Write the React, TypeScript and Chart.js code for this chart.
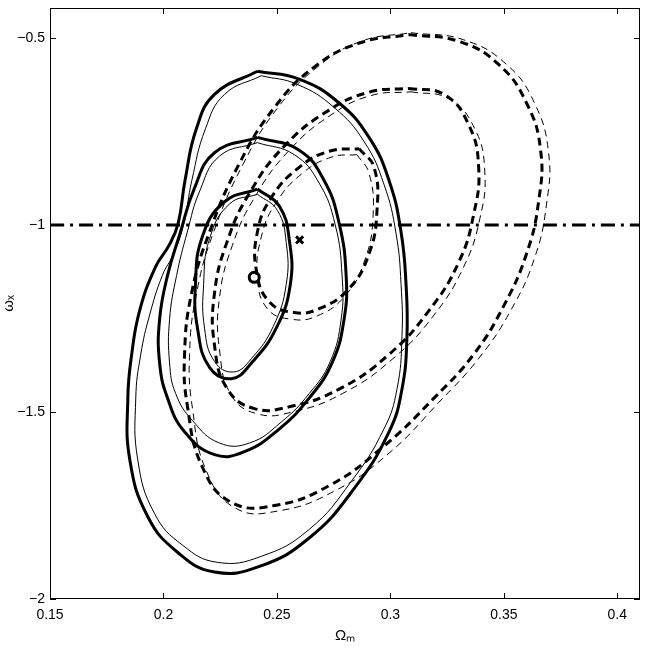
import React, { useEffect, useRef } from "react";
import { Chart, registerables } from "chart.js";

Chart.register(...registerables);

type P = { x: number; y: number };

const xTicks = [0.15, 0.2, 0.25, 0.3, 0.35, 0.4];
const xTickLabels = ["0.15", "0.2", "0.25", "0.3", "0.35", "0.4"];
const yTicks = [-2, -1.5, -1, -0.5];
const yTickLabels = ["\u22122", "\u22121.5", "\u22121", "\u22120.5"];

// Solid contours (thick)
const solidThickInner: P[] = [
  { x: 0.2414, y: -0.904 }, { x: 0.2511, y: -0.95 }, { x: 0.2555, y: -1.042 }, { x: 0.2559, y: -1.159 },
  { x: 0.2497, y: -1.276 }, { x: 0.2388, y: -1.369 }, { x: 0.23, y: -1.411 }, { x: 0.2203, y: -1.381 },
  { x: 0.215, y: -1.276 }, { x: 0.2141, y: -1.159 }, { x: 0.2172, y: -1.03 }, { x: 0.2269, y: -0.938 },
  { x: 0.2414, y: -0.904 },
];
const solidThickMiddle: P[] = [
  { x: 0.2414, y: -0.766 }, { x: 0.2225, y: -0.807 }, { x: 0.2135, y: -0.904 }, { x: 0.2075, y: -1.019 },
  { x: 0.2018, y: -1.135 }, { x: 0.1983, y: -1.252 }, { x: 0.1983, y: -1.369 }, { x: 0.2018, y: -1.463 },
  { x: 0.2093, y: -1.553 }, { x: 0.2225, y: -1.614 }, { x: 0.2357, y: -1.606 }, { x: 0.2511, y: -1.545 },
  { x: 0.2642, y: -1.463 }, { x: 0.2743, y: -1.369 }, { x: 0.2796, y: -1.252 }, { x: 0.2805, y: -1.135 },
  { x: 0.2774, y: -0.995 }, { x: 0.2708, y: -0.881 }, { x: 0.2598, y: -0.8 }, { x: 0.2414, y: -0.766 },
];
const solidThickOuter: P[] = [
  { x: 0.2414, y: -0.589 }, { x: 0.2225, y: -0.651 }, { x: 0.2145, y: -0.743 }, { x: 0.2095, y: -0.881 },
  { x: 0.2065, y: -0.995 }, { x: 0.2025, y: -1.054 }, { x: 0.1965, y: -1.112 }, { x: 0.1895, y: -1.229 },
  { x: 0.186, y: -1.346 }, { x: 0.1843, y: -1.463 }, { x: 0.1852, y: -1.629 }, { x: 0.1931, y: -1.78 },
  { x: 0.2062, y: -1.875 }, { x: 0.2225, y: -1.928 }, { x: 0.2423, y: -1.913 }, { x: 0.2642, y: -1.837 },
  { x: 0.284, y: -1.705 }, { x: 0.2994, y: -1.553 }, { x: 0.3051, y: -1.439 }, { x: 0.3073, y: -1.299 },
  { x: 0.3069, y: -1.159 }, { x: 0.3047, y: -1.019 }, { x: 0.2994, y: -0.881 }, { x: 0.2906, y: -0.766 },
  { x: 0.2774, y: -0.674 }, { x: 0.2598, y: -0.61 }, { x: 0.2414, y: -0.589 },
];

// Solid contours (thin)
const solidThinInner: P[] = [
  { x: 0.2414, y: -0.918 }, { x: 0.2502, y: -0.961 }, { x: 0.2541, y: -1.047 }, { x: 0.2541, y: -1.159 },
  { x: 0.2484, y: -1.271 }, { x: 0.2388, y: -1.357 }, { x: 0.2309, y: -1.393 }, { x: 0.2225, y: -1.365 },
  { x: 0.2181, y: -1.276 }, { x: 0.2177, y: -1.159 }, { x: 0.2203, y: -1.037 }, { x: 0.2291, y: -0.944 },
  { x: 0.2414, y: -0.918 },
];
const solidThinMiddle: P[] = [
  { x: 0.2414, y: -0.78 }, { x: 0.2247, y: -0.816 }, { x: 0.216, y: -0.909 }, { x: 0.2105, y: -1.019 },
  { x: 0.2058, y: -1.135 }, { x: 0.2027, y: -1.252 }, { x: 0.2027, y: -1.369 }, { x: 0.2054, y: -1.451 },
  { x: 0.2128, y: -1.523 }, { x: 0.2247, y: -1.583 }, { x: 0.2379, y: -1.583 }, { x: 0.2519, y: -1.527 },
  { x: 0.2642, y: -1.451 }, { x: 0.2735, y: -1.365 }, { x: 0.2783, y: -1.252 }, { x: 0.2787, y: -1.135 },
  { x: 0.2757, y: -1.0 }, { x: 0.2686, y: -0.888 }, { x: 0.2576, y: -0.812 }, { x: 0.2414, y: -0.78 },
];
const solidThinOuter: P[] = [
  { x: 0.2431, y: -0.601 }, { x: 0.2269, y: -0.651 }, { x: 0.2185, y: -0.743 }, { x: 0.2125, y: -0.881 },
  { x: 0.209, y: -0.995 }, { x: 0.2045, y: -1.077 }, { x: 0.1995, y: -1.135 }, { x: 0.1939, y: -1.241 },
  { x: 0.19, y: -1.346 }, { x: 0.1878, y: -1.463 }, { x: 0.1887, y: -1.629 }, { x: 0.1961, y: -1.772 },
  { x: 0.2084, y: -1.856 }, { x: 0.2238, y: -1.902 }, { x: 0.2431, y: -1.886 }, { x: 0.2642, y: -1.814 },
  { x: 0.2827, y: -1.686 }, { x: 0.2972, y: -1.545 }, { x: 0.3029, y: -1.439 }, { x: 0.3051, y: -1.299 },
  { x: 0.3047, y: -1.159 }, { x: 0.3025, y: -1.023 }, { x: 0.2972, y: -0.892 }, { x: 0.2884, y: -0.777 },
  { x: 0.2752, y: -0.686 }, { x: 0.2589, y: -0.624 }, { x: 0.2431, y: -0.601 },
];

// Dashed contours (thick)
const dashThickInner: P[] = [
  { x: 0.2862, y: -0.796 }, { x: 0.2928, y: -0.846 }, { x: 0.2941, y: -0.961 }, { x: 0.2906, y: -1.077 },
  { x: 0.2818, y: -1.17 }, { x: 0.2686, y: -1.224 }, { x: 0.2576, y: -1.234 }, { x: 0.2467, y: -1.206 },
  { x: 0.241, y: -1.124 }, { x: 0.2414, y: -1.019 }, { x: 0.2475, y: -0.927 }, { x: 0.2598, y: -0.846 },
  { x: 0.273, y: -0.803 }, { x: 0.2862, y: -0.796 },
];
const dashThickMiddle: P[] = [
  { x: 0.3082, y: -0.635 }, { x: 0.3236, y: -0.651 }, { x: 0.3345, y: -0.732 }, { x: 0.3389, y: -0.846 },
  { x: 0.3367, y: -0.972 }, { x: 0.3301, y: -1.1 }, { x: 0.317, y: -1.229 }, { x: 0.2994, y: -1.346 },
  { x: 0.2774, y: -1.439 }, { x: 0.2555, y: -1.486 }, { x: 0.2401, y: -1.491 }, { x: 0.2282, y: -1.439 },
  { x: 0.2225, y: -1.322 }, { x: 0.2225, y: -1.182 }, { x: 0.2282, y: -1.042 }, { x: 0.2379, y: -0.915 },
  { x: 0.2533, y: -0.789 }, { x: 0.273, y: -0.693 }, { x: 0.2906, y: -0.645 }, { x: 0.3082, y: -0.635 },
];
const dashThickOuter: P[] = [
  { x: 0.3082, y: -0.491 }, { x: 0.3301, y: -0.509 }, { x: 0.3477, y: -0.571 }, { x: 0.36, y: -0.674 },
  { x: 0.3662, y: -0.8 }, { x: 0.3653, y: -0.938 }, { x: 0.36, y: -1.077 }, { x: 0.3499, y: -1.217 },
  { x: 0.3367, y: -1.346 }, { x: 0.3192, y: -1.463 }, { x: 0.2972, y: -1.591 }, { x: 0.273, y: -1.697 },
  { x: 0.2489, y: -1.75 }, { x: 0.23, y: -1.742 }, { x: 0.2172, y: -1.648 }, { x: 0.2106, y: -1.486 },
  { x: 0.2093, y: -1.346 }, { x: 0.2124, y: -1.182 }, { x: 0.2203, y: -1.019 }, { x: 0.2335, y: -0.835 },
  { x: 0.2489, y: -0.686 }, { x: 0.2664, y: -0.578 }, { x: 0.2862, y: -0.514 }, { x: 0.3082, y: -0.491 },
];

// Dashed contours (thin)
const dashThinInner: P[] = [
  { x: 0.2853, y: -0.812 }, { x: 0.2906, y: -0.862 }, { x: 0.2924, y: -0.972 }, { x: 0.2888, y: -1.093 },
  { x: 0.2801, y: -1.189 }, { x: 0.2678, y: -1.243 }, { x: 0.2563, y: -1.252 }, { x: 0.2458, y: -1.224 },
  { x: 0.2414, y: -1.14 }, { x: 0.2432, y: -1.03 }, { x: 0.2497, y: -0.94 }, { x: 0.2612, y: -0.862 },
  { x: 0.2739, y: -0.819 }, { x: 0.2853, y: -0.812 },
];
const dashThinMiddle: P[] = [
  { x: 0.3091, y: -0.644 }, { x: 0.3258, y: -0.663 }, { x: 0.3372, y: -0.743 }, { x: 0.3416, y: -0.858 },
  { x: 0.3394, y: -0.984 }, { x: 0.3323, y: -1.112 }, { x: 0.3192, y: -1.241 }, { x: 0.3012, y: -1.357 },
  { x: 0.2788, y: -1.451 }, { x: 0.2568, y: -1.5 }, { x: 0.2414, y: -1.505 }, { x: 0.23, y: -1.456 },
  { x: 0.2247, y: -1.334 }, { x: 0.2247, y: -1.194 }, { x: 0.2304, y: -1.054 }, { x: 0.2401, y: -0.927 },
  { x: 0.2555, y: -0.8 }, { x: 0.2743, y: -0.704 }, { x: 0.2915, y: -0.654 }, { x: 0.3091, y: -0.644 },
];
const dashThinOuter: P[] = [
  { x: 0.3091, y: -0.486 }, { x: 0.3323, y: -0.505 }, { x: 0.3512, y: -0.571 }, { x: 0.3635, y: -0.674 },
  { x: 0.3697, y: -0.807 }, { x: 0.3688, y: -0.945 }, { x: 0.3635, y: -1.089 }, { x: 0.353, y: -1.229 },
  { x: 0.3389, y: -1.357 }, { x: 0.3214, y: -1.474 }, { x: 0.2994, y: -1.61 }, { x: 0.2752, y: -1.712 },
  { x: 0.2502, y: -1.765 }, { x: 0.2317, y: -1.757 }, { x: 0.219, y: -1.659 }, { x: 0.2128, y: -1.491 },
  { x: 0.2115, y: -1.346 }, { x: 0.2146, y: -1.182 }, { x: 0.2221, y: -1.019 }, { x: 0.2353, y: -0.835 },
  { x: 0.2502, y: -0.688 }, { x: 0.2678, y: -0.578 }, { x: 0.2871, y: -0.509 }, { x: 0.3091, y: -0.486 },
];

const lambdaLine: P[] = [{ x: 0.15, y: -1 }, { x: 0.41, y: -1 }];
const circleMarker: P[] = [{ x: 0.24, y: -1.14 }];
const crossMarker: P[] = [{ x: 0.26, y: -1.04 }];

const FONT = "'Liberation Sans', Arial, sans-serif";

export default function App() {
  const ref = useRef<HTMLCanvasElement | null>(null);
  useEffect(() => {
    document.body.style.margin = "0";
    const canvas = ref.current;
    if (!canvas) return;

    const line = (data: P[], width: number, dash: number[]) => ({
      data,
      showLine: true,
      borderColor: "#000",
      backgroundColor: "#000",
      borderWidth: width,
      borderDash: dash,
      pointRadius: 0,
      fill: false,
      tension: 0.45,
    });

    const frame = {
      id: "frame",
      afterDraw(chart: any) {
        const { ctx, chartArea: a, scales } = chart;
        ctx.save();
        ctx.strokeStyle = "#000";
        ctx.lineWidth = 1;
        ctx.strokeRect(a.left + 0.5, a.top + 0.5, a.right - a.left - 1, a.bottom - a.top - 1);
        ctx.beginPath();
        for (const v of xTicks) {
          const px = Math.round(scales.x.getPixelForValue(v)) + 0.5;
          ctx.moveTo(px, a.bottom);
          ctx.lineTo(px, a.bottom - 6);
          ctx.moveTo(px, a.top);
          ctx.lineTo(px, a.top + 6);
        }
        for (const v of yTicks) {
          const py = Math.round(scales.y.getPixelForValue(v)) + 0.5;
          ctx.moveTo(a.left, py);
          ctx.lineTo(a.left + 6, py);
          ctx.moveTo(a.right, py);
          ctx.lineTo(a.right - 6, py);
        }
        ctx.stroke();
        ctx.restore();
      },
    };

    const chart = new Chart(canvas, {
      type: "scatter",
      data: {
        datasets: [
          line(lambdaLine, 3, [14, 6, 3, 6]),
          line(solidThickInner, 3, []),
          line(solidThickMiddle, 3, []),
          line(solidThickOuter, 3, []),
          line(solidThinInner, 1, []),
          line(solidThinMiddle, 1, []),
          line(solidThinOuter, 1, []),
          line(dashThickInner, 3, [8, 5]),
          line(dashThickMiddle, 3, [8, 5]),
          line(dashThickOuter, 3, [8, 5]),
          line(dashThinInner, 1, [7, 5]),
          line(dashThinMiddle, 1, [7, 5]),
          line(dashThinOuter, 1, [7, 5]),
          {
            data: circleMarker,
            pointStyle: "circle",
            pointRadius: 5,
            borderWidth: 3,
            borderColor: "#000",
            backgroundColor: "#fff",
          },
          {
            data: crossMarker,
            pointStyle: "crossRot",
            pointRadius: 5,
            borderWidth: 3,
            borderColor: "#000",
            backgroundColor: "#000",
          },
        ] as any,
      },
      options: {
        animation: false,
        responsive: false,
        layout: { padding: { top: 5, right: 6, left: 0, bottom: 0 } },
        plugins: { legend: { display: false }, tooltip: { enabled: false } },
        scales: {
          x: {
            type: "linear",
            min: 0.15,
            max: 0.41,
            afterBuildTicks: (s: any) => {
              s.ticks = xTicks.map((v) => ({ value: v }));
            },
            afterFit: (s: any) => {
              s.height = 49;
              s.paddingLeft = 0;
              s.paddingRight = 0;
            },
            ticks: {
              callback: (v: any) => {
                const i = xTicks.findIndex((t) => Math.abs(t - Number(v)) < 1e-9);
                return i >= 0 ? xTickLabels[i] : "";
              },
              color: "#000",
              font: { family: FONT, size: 14 },
              padding: 8,
              maxRotation: 0,
              autoSkip: false,
            },
            grid: { display: false, drawTicks: false },
            border: { display: false },
            title: {
              display: true,
              text: "\u03A9\u2098",
              color: "#000",
              font: { family: FONT, size: 15 },
              padding: { top: 0, bottom: 3 },
            },
          },
          y: {
            type: "linear",
            min: -2,
            max: -0.42,
            afterBuildTicks: (s: any) => {
              s.ticks = yTicks.map((v) => ({ value: v }));
            },
            afterFit: (s: any) => {
              s.width = 50;
              s.paddingTop = 0;
              s.paddingBottom = 0;
            },
            ticks: {
              callback: (v: any) => {
                const i = yTicks.findIndex((t) => Math.abs(t - Number(v)) < 1e-9);
                return i >= 0 ? yTickLabels[i] : "";
              },
              color: "#000",
              font: { family: FONT, size: 14 },
              padding: 5,
              autoSkip: false,
            },
            grid: { display: false, drawTicks: false },
            border: { display: false },
            title: {
              display: true,
              text: "\u03C9\u2093",
              color: "#000",
              font: { family: FONT, size: 15 },
              padding: { top: 0, bottom: 2 },
            },
          },
        },
      },
      plugins: [frame],
    });
    return () => chart.destroy();
  }, []);

  return (
    <div style={{ width: 648, height: 648 }}>
      <canvas ref={ref} width={648} height={648} style={{ width: 648, height: 648, display: "block" }} />
    </div>
  );
}
